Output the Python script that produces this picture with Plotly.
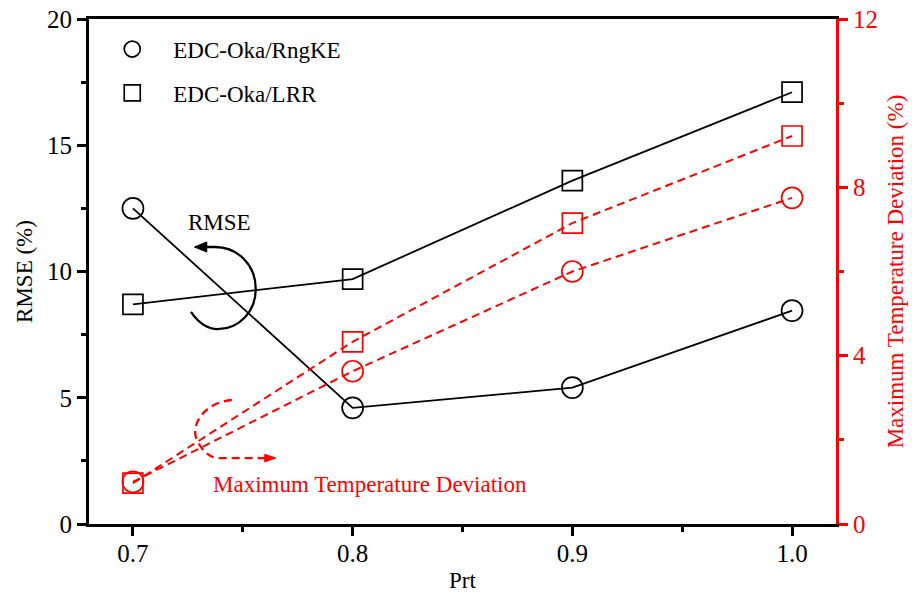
import plotly.graph_objects as go

# Turbulent Prandtl number sweep
prt = [0.7, 0.8, 0.9, 1.0]

# RMSE (%) on the left axis
rmse_rngke = [12.5, 4.6, 5.4, 8.45]
rmse_lrr = [8.7, 9.7, 13.6, 17.1]

# Maximum temperature deviation (%) on the right axis
mtd_rngke = [1.0, 3.63, 6.0, 7.75]
mtd_lrr = [0.97, 4.33, 7.15, 9.22]

x_ticks = [0.7, 0.8, 0.9, 1.0]
x_tick_text = ["0.7", "0.8", "0.9", "1.0"]

FONT = "Liberation Serif"
RED = "#ff0000"
BLACK = "#000000"

fig = go.Figure()

# red dashed deviation curves (right axis)
fig.add_trace(go.Scatter(
    x=prt, y=mtd_rngke, yaxis="y2", mode="lines+markers", showlegend=False,
    line=dict(color=RED, width=2, dash="8px,5px"),
    marker=dict(symbol="circle-open", size=21, color=RED, line=dict(width=1.7, color=RED)),
))
fig.add_trace(go.Scatter(
    x=prt, y=mtd_lrr, yaxis="y2", mode="lines+markers", showlegend=False,
    line=dict(color=RED, width=2, dash="8px,5px"),
    marker=dict(symbol="square-open", size=20, color=RED, line=dict(width=1.7, color=RED)),
))

# solid black RMSE curves (left axis)
fig.add_trace(go.Scatter(
    x=prt, y=rmse_rngke, mode="lines+markers", showlegend=False,
    line=dict(color=BLACK, width=1.8),
    marker=dict(symbol="circle-open", size=21, color=BLACK, line=dict(width=1.7, color=BLACK)),
))
fig.add_trace(go.Scatter(
    x=prt, y=rmse_lrr, mode="lines+markers", showlegend=False,
    line=dict(color=BLACK, width=1.8),
    marker=dict(symbol="square-open", size=20, color=BLACK, line=dict(width=1.7, color=BLACK)),
))

# legend entries (symbols only)
fig.add_trace(go.Scatter(
    x=[None], y=[None], mode="markers", name="EDC-Oka/RngKE", legendgroup="a",
    marker=dict(symbol="circle-open", size=21, color=BLACK, line=dict(width=1.7, color=BLACK)),
))
fig.add_trace(go.Scatter(
    x=[None], y=[None], mode="markers", name="EDC-Oka/LRR", legendgroup="b",
    marker=dict(symbol="square-open", size=20, color=BLACK, line=dict(width=1.7, color=BLACK)),
))

# curved pointer arrows showing which axis each group belongs to
shapes = [
    dict(type="path", xref="x", yref="y",
         path="M 0.7264,8.40 C 0.7305,7.88 0.735,7.72 0.7386,7.72 "
              "C 0.7486,7.72 0.7559,8.44 0.7559,9.31 "
              "C 0.7559,10.26 0.7477,10.97 0.7373,10.97 L 0.7330,10.97",
         line=dict(color=BLACK, width=2.3)),
    dict(type="path", xref="x", yref="y",
         path="M 0.7280,10.97 L 0.7336,11.17 L 0.7336,10.77 Z",
         line=dict(color=BLACK, width=1), fillcolor=BLACK),
    dict(type="path", xref="x", yref="y",
         path="M 0.745,4.91 C 0.7327,4.83 0.7259,3.92 0.7291,3.33 "
              "C 0.7318,2.85 0.735,2.61 0.7395,2.61 L 0.7605,2.61",
         line=dict(color=RED, width=2.3, dash="8px,5px")),
    dict(type="path", xref="x", yref="y",
         path="M 0.7650,2.61 L 0.7600,2.76 L 0.7600,2.46 Z",
         line=dict(color=RED, width=1), fillcolor=RED),
]

annotations = [
    dict(x=0.7395, y=11.96, xref="x", yref="y", text="RMSE", showarrow=False,
         font=dict(family=FONT, size=23, color=BLACK)),
    dict(x=0.8077, y=1.58, xref="x", yref="y", text="Maximum Temperature Deviation",
         showarrow=False, font=dict(family=FONT, size=23, color=RED)),
]

fig.update_layout(
    width=912, height=598,
    margin=dict(l=89, r=76, t=19, b=74, autoexpand=False),
    paper_bgcolor="white", plot_bgcolor="white",
    font=dict(family=FONT, size=23, color=BLACK),
    shapes=shapes, annotations=annotations,
    legend=dict(x=0.003, y=0.983, xanchor="left", yanchor="top",
                bgcolor="rgba(0,0,0,0)", borderwidth=0,
                font=dict(family=FONT, size=23, color=BLACK),
                itemwidth=72, tracegroupgap=11, traceorder="grouped"),
    xaxis=dict(
        range=[0.68, 1.02], tickvals=x_ticks, ticktext=x_tick_text,
        automargin=False, showgrid=False, zeroline=False,
        showline=True, linecolor=BLACK, linewidth=3, mirror=True,
        ticks="outside", ticklen=9, tickwidth=2.5, tickcolor=BLACK,
        ticklabelstandoff=-4,
        tickfont=dict(family=FONT, size=25, color=BLACK),
        minor=dict(dtick=0.05, tick0=0.7, ticks="outside", ticklen=5, tickwidth=2.5, tickcolor=BLACK),
        title=dict(text="Prt", font=dict(family=FONT, size=23, color=BLACK), standoff=6),
    ),
    yaxis=dict(
        range=[0, 20], dtick=5, tick0=0,
        automargin=False, showgrid=False, zeroline=False,
        showline=True, linecolor=BLACK, linewidth=3,
        ticks="outside", ticklen=9, tickwidth=2.5, tickcolor=BLACK,
        tickfont=dict(family=FONT, size=25, color=BLACK),
        minor=dict(dtick=2.5, tick0=0, ticks="outside", ticklen=5, tickwidth=2.5, tickcolor=BLACK),
        title=dict(text="RMSE (%)", font=dict(family=FONT, size=23, color=BLACK), standoff=8),
    ),
    yaxis2=dict(
        range=[0, 12], dtick=4, tick0=0, overlaying="y", side="right",
        automargin=False, showgrid=False, zeroline=False,
        showline=True, linecolor=RED, linewidth=3,
        ticks="outside", ticklen=9, tickwidth=2.5, tickcolor=RED,
        tickfont=dict(family=FONT, size=25, color=RED),
        minor=dict(dtick=2, tick0=0, ticks="outside", ticklen=5, tickwidth=2.5, tickcolor=RED),
        title=dict(text="Maximum Temperature Deviation (%)",
                   font=dict(family=FONT, size=23, color=RED), standoff=10),
    ),
)

fig.write_html("out.html")
